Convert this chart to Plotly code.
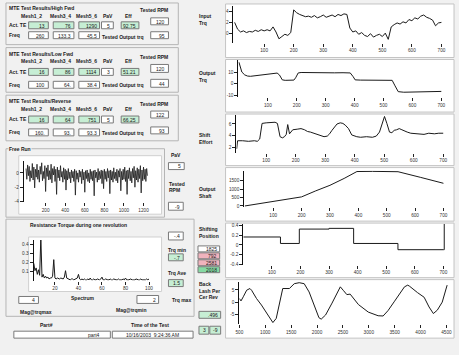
import plotly.graph_objects as go

W, H = 459, 355
FONT = "Liberation Sans"
INK = "#1a1a1a"
PAPER = "#f1f1f1"
GREEN = "#c6eed4"
DGREEN = "#86d9a3"
PINK = "#f0b3bd"

# ---------------- data ----------------
input_trq_x = list(range(0, 701, 10))
input_trq = [2.0, 0.8, 0.3, 0.5, 0.2, 0.4, 0.3, 0.6, 0.4, 0.7,
             0.5, 0.7, 0.5, 1.2, 0.3, -0.9, -0.5, -0.1, -0.3, 0.2,
             4.2, 3.7, 3.4, 3.2, 3.0, 3.1, 2.9, 3.2, 2.8, 3.0,
             3.3, 2.9, 3.1, 3.3, 3.0, 3.4, 3.2, 3.5, 3.4,
             1.0, 0.3, 0.5, -0.1, 0.2, -0.3, -0.5, 0.0, -0.6, -0.3,
             -0.1, -0.5, 0.1, -1.0,
             1.2, 1.6, 1.9, 1.7, 2.1, 1.9, 2.5, 2.3, 2.8, 2.6,
             3.1, 3.3, 2.9, 2.7, 2.4, 1.4, 1.9, 2.0]

out_trq_x = [0, 5, 10, 20, 30, 40, 60, 80, 100, 120,
             132, 140, 150, 160, 175, 190, 196, 205, 215, 240,
             270, 300, 330, 360, 385, 395, 402, 420, 450, 480,
             510, 530, 540, 551, 570, 600, 630, 660, 690, 700]
out_trq = [18.5, 14.0, 10.0, 7.5, 6.5, 6.3, 7.0, 7.8, 8.5, 9.0,
           9.1, 7.5, 3.2, 2.8, 2.9, 3.0, 5.0, 9.2, 9.6, 9.4,
           9.3, 9.5, 9.3, 9.4, 9.2, 6.0, 3.2, 3.0, 2.8, 2.9,
           2.7, 2.8, -2.0, -7.0, -7.5, -7.4, -7.3, -7.2, -6.9, -6.8]

shift_x = [0, 3, 20, 40, 60, 70, 78, 86, 100, 120,
           130, 138, 147, 155, 162, 168, 173, 179, 190, 205,
           218, 230, 240, 250, 262, 275, 285, 296, 307, 315,
           323, 332, 340, 351, 360, 368, 379, 390, 400, 407,
           420, 440, 460, 473, 484, 490, 496, 501, 509, 518,
           526, 534, 542, 551, 560, 567, 578, 590, 605, 618,
           635, 651, 670, 685, 700]
shift_effort = [1.7, 3.1, 3.1, 3.0, 3.1, 3.0, 3.4, 6.1, 6.2, 6.2,
                6.3, 6.1, 3.8, 3.6, 3.8, 4.2, 5.9, 4.3, 5.0, 5.1,
                5.2, 5.0, 4.7, 4.6, 4.4, 4.2, 4.0, 3.8, 3.9, 4.3,
                4.9, 5.5, 6.0, 6.2, 6.1, 5.8, 5.2, 4.1, 3.9, 3.8,
                3.7, 3.8, 3.7, 3.9, 4.6, 5.6, 6.9, 7.3, 6.1, 4.6,
                4.5, 4.9, 5.0, 5.2, 5.0, 4.8, 4.6, 4.4, 4.3, 4.3,
                4.2, 4.4, 4.3, 4.4, 4.4]

shaft_x = [0, 100, 200, 250, 300, 350, 395, 450, 500, 540, 620, 700]
shaft_rpm = [0, 270, 540, 900, 1230, 1640, 2050, 2060, 2060, 2040, 1700, 1350]

pos_x = [0, 130, 196, 300, 386, 541, 700, 703]
shift_pos = [0.165, 0.03, 0.33, 0.345, 0.03, -0.1, -0.1, 0.45]

bl_x = [500, 532, 576, 641, 704, 736, 831, 927, 1052, 1148,
        1212, 1275, 1338, 1466, 1561, 1656, 1752, 1847, 1942, 2037,
        2081, 2165, 2290, 2386, 2450, 2513, 2576, 2640, 2700, 2800,
        2990, 3180, 3276, 3371, 3498, 3600, 3689, 3752, 3790, 3942,
        4069, 4164, 4247, 4323, 4418, 4513]
backlash = [1.5, 0.5, 2.2, 4.9, 5.6, 4.9, 1.5, -1.2, -5.3, -8.4,
            -6.7, -1.2, 5.6, 5.6, 7.6, 8.0, 7.6, 4.2, -1.2, -6.4,
            -7.0, -5.3, -0.4, 3.7, 6.3, 4.7, 3.1, 3.3, 1.5, -1.0,
            -4.1, -5.6, -5.7, -3.5, 0.4, 3.5, 6.3, 7.0, 6.5, 3.9,
            2.0, -2.0, -4.7, -3.3, 0.0, 7.0]

free_run_x = list(range(0, 1241, 8))
free_run = [0.6, -0.9, 1.1, -0.4, 0.9, -1.2, 0.3, -0.7, 1.3, -1.0,
            0.8, -2.1, 0.5, -0.6, 1.2, -0.9, 0.4, -1.3, 0.9, -0.2,
            1.4, -1.1, 0.2, -0.8, 1.0, -2.6, 0.7, -0.5, 1.1, -1.0,
            0.3, -0.9, 1.2, -1.4, 0.6, -0.3, 0.9, -1.2, 0.5, -3.0,
            0.8, -0.7, 0.4, -1.1, 1.0, -0.6, 0.2, -1.3, 0.7, -0.9,
            0.5, -2.4, 0.3, -1.0, 0.6, -0.8, 0.1, -1.4, 0.4, -0.7,
            0.2, -1.2, 0.5, -3.1, 0.3, -0.9, 0.0, -1.3, 0.4, -0.6,
            0.2, -1.5, 0.5, -1.0, 0.1, -2.7, 0.3, -0.8, 0.4, -1.2,
            0.0, -1.4, 0.5, -0.9, 0.2, -1.1, 0.3, -3.2, 0.4, -0.7,
            0.1, -1.3, 0.6, -1.0, 0.2, -0.8, 0.4, -1.5, 0.3, -2.2,
            0.5, -0.9, 0.2, -1.2, 0.6, -0.7, 0.3, -2.9, 0.4, -1.0,
            0.2, -1.3, 0.7, -0.8, 0.1, -1.1, 0.5, -1.4, 0.3, -0.6,
            0.6, -2.5, 0.2, -1.0, 0.5, -0.9, 0.8, -1.2, 0.3, -3.0,
            0.4, -0.8, 0.7, -1.1, 0.2, -1.4, 0.6, -0.7, 0.9, -2.0,
            0.3, -1.0, 0.7, -1.3, 0.5, -0.8, 1.0, -2.8, 0.4, -1.1,
            0.8, -0.9, 0.5, -1.2, 0.6, -0.4]

spec_x = list(range(2, 101))
spectrum = [0.19, 0.11, 0.14, 0.07, 0.12, 0.06, 0.47, 0.04, 0.07, 0.03,
            0.05, 0.03, 0.04, 0.02, 0.03, 0.03, 0.05, 0.23, 0.03, 0.02,
            0.03, 0.02, 0.02, 0.03, 0.02, 0.02, 0.04, 0.11, 0.03, 0.02,
            0.02, 0.01, 0.02, 0.02, 0.01, 0.02, 0.02, 0.03, 0.07, 0.02,
            0.01, 0.02, 0.01, 0.02, 0.01, 0.01, 0.02, 0.01, 0.03, 0.01,
            0.01, 0.02, 0.01, 0.01, 0.02, 0.01, 0.01, 0.02, 0.04, 0.01,
            0.01, 0.02, 0.01, 0.01, 0.01, 0.02, 0.01, 0.01, 0.02, 0.01,
            0.01, 0.01, 0.02, 0.01, 0.01, 0.01, 0.02, 0.01, 0.03, 0.01,
            0.01, 0.01, 0.02, 0.01, 0.01, 0.01, 0.01, 0.02, 0.01, 0.01,
            0.01, 0.02, 0.01, 0.01, 0.01, 0.01, 0.02, 0.01, 0.02]

t700 = [100, 200, 300, 400, 500, 600, 700]
t700_txt = ["100", "200", "300", "400", "500", "600", "700"]

panel_titles = ["MTE Test Results/High Fwd", "MTE Test Results/Low Fwd", "MTE Test Results/Reverse"]
col_headers = ["Mesh1_2", "Mesh3_4", "Mesh5_6", "PaV", "Eff"]
act_te = [["13", "76", "1290", "5", "92.75"],
          ["16", "86", "1114", "3", "51.21"],
          ["16", "64", "751", "5", "66.25"]]
freq = [["260", "133.3", "45.5"], ["100", "64.", "38.4"], ["160.", "93.", "93.3"]]
tested_rpm = ["120", "120", "122"]
tested_out = ["95", "44", "93"]

shift_pos_vals = ["1825", "792", "2581", "2018"]

# ---------------- figure ----------------
fig = go.Figure()
layout = {}
shapes = []
annotations = []


def T(x, y, s, size=5, anchor="left", color=INK, bold=False, bg=None):
    d = dict(x=x / W, y=1 - y / H, xref="paper", yref="paper",
             text=("<b>%s</b>" % s) if bold else s, showarrow=False,
             xanchor=anchor, yanchor="middle", borderpad=0,
             font=dict(size=size, color=color, family=FONT))
    if bg:
        d["bgcolor"] = bg
    annotations.append(d)


def R(x0, y0, x1, y1, fill="white", line="#808080", w=1, layer="below"):
    shapes.append(dict(type="rect", xref="paper", yref="paper",
                       x0=x0 / W, x1=x1 / W, y0=1 - y1 / H, y1=1 - y0 / H,
                       fillcolor=fill, line=dict(color=line, width=w), layer=layer))


def VB(x0, y0, x1, y1, val, fill="white"):
    R(x0, y0, x1, y1, fill=fill, line="#7a7a7a")
    T(x1 - 2, (y0 + y1) / 2 + 0.3, val, anchor="right")


TF = dict(size=4.7, color="#333", family=FONT)


def add_plot(n, x, y, px, xr, yr, xtv, xtt, ytv, ytt, shape="linear", lw=1):
    sfx = "" if n == 1 else str(n)
    x0, y0, x1, y1 = px
    layout["xaxis" + sfx] = dict(domain=[x0 / W, x1 / W], range=xr, anchor="y" + sfx,
                                 tickvals=xtv, ticktext=xtt, ticks="outside", ticklen=3,
                                 tickwidth=1, tickcolor="#222", showline=False, showgrid=False,
                                 zeroline=False, tickfont=TF, fixedrange=True)
    layout["yaxis" + sfx] = dict(domain=[1 - y1 / H, 1 - y0 / H], range=yr, anchor="x" + sfx,
                                 tickvals=ytv, ticktext=ytt, ticks="outside", ticklen=3,
                                 tickwidth=1, tickcolor="#222", showline=True, linecolor="#111",
                                 linewidth=1, showgrid=False, zeroline=False, tickfont=TF,
                                 fixedrange=True)
    fig.add_trace(go.Scatter(x=x, y=y, mode="lines", line=dict(color=INK, width=lw, shape=shape),
                             xaxis="x" + sfx, yaxis="y" + sfx, showlegend=False, hoverinfo="skip"))


# right-hand panel frames
for (fy0, fy1) in [(3, 57), (59, 112), (114, 166), (168, 222), (224, 279), (281, 340)]:
    R(225, fy0, 457, fy1, fill="white", line="#c4c4c4")

add_plot(1, input_trq_x, input_trq, (233, 5, 452, 42), [-4, 726], [-1.58, 4.9],
         t700, t700_txt, [0, 2, 4], ["0", "2", "4"])
add_plot(2, out_trq_x, out_trq, (238, 60, 452, 97), [-2, 727], [-11.8, 20],
         t700, t700_txt, [-10, 0, 10], ["-10", "0", "10"])
add_plot(3, shift_x, shift_effort, (236, 115, 452, 153), [-1, 720], [1.03, 7.55],
         t700, t700_txt, [2, 4, 6], ["2", "4", "6"])
add_plot(4, shaft_x, shaft_rpm, (244, 171, 452, 208), [-2, 720], [-77, 2109],
         t700, t700_txt, [0, 500, 1000, 1500], ["0", "500", "1000", "1500"])
add_plot(5, pos_x, shift_pos, (243, 225, 452, 266), [0, 720], [-0.414, 0.434],
         t700, t700_txt, [-0.4, -0.2, 0, 0.2, 0.4], ["-0.4", "-0.2", "0", "0.2", "0.4"],
         shape="hv")
add_plot(6, bl_x, backlash, (239, 283, 452, 326), [500, 4551], [-9.1, 8.45],
         [500, 1000, 1500, 2000, 2500, 3000, 3500, 4000, 4500],
         ["500", "1000", "1500", "2000", "2500", "3000", "3500", "4000", "4500"],
         [-5, 0, 5], ["-5", "0", "5"])

# left-top result panels
panel_geo = [
    dict(title=7, rpm=9, head=15, r1=(21, 28), r2=(31, 38), rpmb=(17, 24), outb=(31, 38), outl=36, frame=(2, 44)),
    dict(title=53, rpm=56, head=61, r1=(68, 75), r2=(81, 88), rpmb=(64, 72), outb=(79, 87), outl=85, frame=(47, 92)),
    dict(title=101, rpm=104, head=109, r1=(116, 123), r2=(129, 136), rpmb=(111, 118), outb=(127, 134), outl=133, frame=(95, 141)),
]
cols = [(25, 45), (50, 71), (76, 97), (99, 111), (119, 137)]
head_cx = [28, 57, 84, 106, 126]
act_fill = [GREEN, GREEN, GREEN, "white", GREEN]
for i, g in enumerate(panel_geo):
    R(2, g["frame"][0], 177, g["frame"][1], fill=PAPER, line="#b5b5b5")
    T(4, g["title"], panel_titles[i], bold=True)
    T(152, g["rpm"], "Tested RPM", anchor="center", bold=True)
    for j, h in enumerate(col_headers):
        T(head_cx[j], g["head"], h, anchor="center", bold=True)
    T(4, sum(g["r1"]) / 2, "Act. TE", bold=True)
    T(4, sum(g["r2"]) / 2, "Freq", bold=True)
    for j, v in enumerate(act_te[i]):
        VB(cols[j][0], g["r1"][0], cols[j][1], g["r1"][1], v, fill=act_fill[j])
    for j, v in enumerate(freq[i]):
        VB(cols[j][0], g["r2"][0], cols[j][1], g["r2"][1], v)
    T(99, g["outl"], "Tested Output trq", bold=True)
    VB(149, g["rpmb"][0], 167, g["rpmb"][1], tested_rpm[i])
    VB(149, g["outb"][0], 167, g["outb"][1], tested_out[i])

# lower-left frames
R(2, 149, 163, 218, fill=PAPER, line="#b5b5b5")
R(15, 156, 160, 215, fill="white", line="#d0d0d0")
T(4, 149, "Free Run", bold=True, bg=PAPER)
R(2, 220, 193, 318, fill=PAPER, line="#b5b5b5")
R(25, 238, 160, 293, fill="white", line="#d0d0d0")
T(25, 226, "Resistance Torque during one revolution", bold=True)

add_plot(7, free_run_x, free_run, (20, 161, 157, 203), [-24, 1354], [-4.1, 1.7],
         [200, 400, 600, 800, 1000, 1200], ["200", "400", "600", "800", "1000", "1200"],
         [-4, -2, 0], ["-4", "-2", "0"], lw=0.8)
add_plot(8, spec_x, spectrum, (30, 241, 158, 282), [1.8, 109], [0.002, 0.444],
         [20, 40, 60, 80, 100], ["20", "40", "60", "80", "100"],
         [0, 0.1, 0.2, 0.3, 0.4], ["0", "0.1", "0.2", "0.3", "0.4"])

VB(15, 298, 35, 305, "4")
VB(135, 297, 157, 305, "2")
T(80, 300, "Spectrum", anchor="center", bold=True)
T(15, 314, "Mag@trqmax", bold=True)
T(113, 312, "Mag@trqmin", bold=True)

# middle column indicators
T(175, 155, "PaV", anchor="center", bold=True)
VB(167, 163, 183, 170, "5")
T(167, 185, "Tested", bold=True)
T(167, 191, "RPM", bold=True)
VB(167, 203, 182, 211, "-9")
VB(167, 233, 182, 241, "-.4")
T(166, 251, "Trq min", bold=True)
VB(167, 255, 182, 262, "-.7", fill=GREEN)
T(166, 274, "Trq Ave", bold=True)
VB(167, 281, 182, 288, "1.5", fill=GREEN)
T(170, 302, "Trq max", bold=True)

# right-middle labels
for (y1, y2, a, b) in [(15, 22, "Input", "Trq"), (73, 80, "Output", "Trq"),
                       (135, 142, "Shift", "Effort"), (190, 197, "Output", "Shaft"),
                       (230, 237, "Shifting", "Position")]:
    T(197, y1, a, bold=True)
    T(197, y2, b, bold=True)
sp_fill = ["white", PINK, PINK, DGREEN]
for k, v in enumerate(shift_pos_vals):
    VB(197, 247 + 7 * k, 219, 253 + 7 * k, v, fill=sp_fill[k])
T(197, 285, "Back", bold=True)
T(197, 292, "Lash Per", bold=True)
T(197, 299, "Cer Rev", bold=True)
VB(198, 313, 220, 320, ".496", fill=GREEN)
VB(198, 328, 208, 336, "3", fill=GREEN)
VB(209, 328, 220, 336, "-9", fill=GREEN)

# bottom info
T(43, 327, "Part#", anchor="center", bold=True)
R(10, 333, 108, 340, fill="white", line="#7a7a7a")
T(84, 336.5, "part4")
T(148, 327, "Time of the Test", anchor="center", bold=True)
R(110, 333, 192, 340, fill="white", line="#7a7a7a")
T(151, 336.5, "10/16/2003  9:24:36 AM", anchor="center")

fig.update_layout(width=W, height=H, margin=dict(l=0, r=0, t=0, b=0),
                  paper_bgcolor=PAPER, plot_bgcolor="white",
                  shapes=shapes, annotations=annotations, showlegend=False,
                  font=dict(family=FONT, size=5, color=INK), **layout)
fig.write_html("out.html", config={"displayModeBar": False},
               post_script="document.body.style.margin='0';document.body.style.overflow='hidden';")
